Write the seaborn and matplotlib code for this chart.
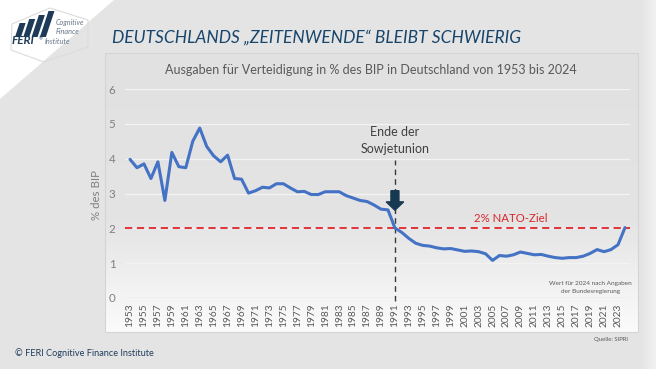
import numpy as np
import matplotlib
matplotlib.use("Agg")
import matplotlib.pyplot as plt
import seaborn as sns
from matplotlib.patches import Polygon, FancyArrow, Rectangle

# ---------------- data ----------------
years = list(range(1953, 2025))
spending = [
    3.98, 3.74, 3.85, 3.43, 3.91, 2.80, 4.18, 3.77, 3.74, 4.50,   # 1953-1962
    4.88, 4.35, 4.08, 3.91, 4.10, 3.43, 3.41, 3.01, 3.08, 3.18,   # 1963-1972
    3.16, 3.28, 3.28, 3.16, 3.05, 3.06, 2.97, 2.97, 3.05, 3.05,   # 1973-1982
    3.05, 2.94, 2.87, 2.80, 2.77, 2.67, 2.55, 2.53, 2.01, 1.88,   # 1983-1992
    1.71, 1.57, 1.51, 1.49, 1.44, 1.41, 1.42, 1.38, 1.34, 1.35,   # 1993-2002
    1.33, 1.27, 1.08, 1.22, 1.20, 1.24, 1.32, 1.28, 1.24, 1.25,   # 2003-2012
    1.20, 1.16, 1.14, 1.16, 1.16, 1.20, 1.28, 1.39, 1.33, 1.39,   # 2013-2022
    1.53, 2.02,                                                    # 2023-2024
]
tick_years = list(range(1953, 2024, 2))
y_ticks = [0, 1, 2, 3, 4, 5, 6]
nato_target = 2.0
event_year = 1991

title = "DEUTSCHLANDS \u201eZEITENWENDE\u201c BLEIBT SCHWIERIG"
subtitle = "Ausgaben f\u00fcr Verteidigung in % des BIP in Deutschland von 1953 bis 2024"
event_label = "Ende der\nSowjetunion"
nato_label = "2% NATO-Ziel"
note = "Wert f\u00fcr 2024 nach Angaben\nder Bundesregierung"
source = "Quelle: SIPRI"
copyright_txt = "\u00a9 FERI Cognitive Finance Institute"

# ---------------- style ----------------
sns.set_style("white")
plt.rcParams['font.family'] = ['Lato', 'DejaVu Sans']

W, H = 656, 369
fig = plt.figure(figsize=(6.56, 3.69), dpi=100)
fig.patch.set_facecolor('#e4e4e4')

def fx(x):
    return x / W

def fy(y):
    return 1 - y / H

# background layer in pixel coordinates
bg = fig.add_axes([0, 0, 1, 1], zorder=0)
bg.set_xlim(0, W)
bg.set_ylim(H, 0)
bg.axis('off')

# right light band
grad_r = np.linspace(0, 1, 50).reshape(1, -1)
bg.imshow(grad_r, extent=(640, W, H, 0), cmap=matplotlib.colors.LinearSegmentedColormap.from_list(
    'r', ['#e4e4e4', '#f1f1f1']), aspect='auto', zorder=0)

# white corner
bg.add_patch(Polygon([(0, 0), (114, 0), (0, 99)], closed=True, facecolor='white', edgecolor='none', zorder=1))
# hexagon outline around logo
bg.add_patch(Polygon([(50, 8), (88, 20), (88, 47), (44, 62), (11, 50), (12, 24)], closed=True,
                     facecolor='none', edgecolor='#dcdcdc', lw=0.8, zorder=2))
# logo bars
navy = '#1e3c58'
for i, top in enumerate([23, 19, 15, 11]):
    x0 = 15 + i * 8.3
    bottom = 37
    slant = (bottom - top) * 0.33
    bg.add_patch(Polygon([(x0, bottom), (x0 + 6, bottom), (x0 + 6 + slant, top), (x0 + slant, top)],
                         closed=True, facecolor=navy, edgecolor='none', zorder=3))
bg.text(12, 44.5, "FERI", fontsize=8.5, fontweight='bold', style='italic', color=navy, va='baseline', zorder=3)
bg.text(38.5, 40.5, "\u00ae", fontsize=3.5, color=navy, va='baseline', zorder=3)
bg.text(56, 25, "Cognitive", fontsize=5.2, style='italic', color='#66768a', va='baseline', zorder=3)
bg.text(56, 34.5, "Finance", fontsize=5.2, style='italic', color='#66768a', va='baseline', zorder=3)
bg.text(45, 44.5, "Institute", fontsize=5.2, style='italic', color='#66768a', va='baseline', zorder=3)

# chart panel with gradient
panel_cmap = matplotlib.colors.LinearSegmentedColormap.from_list(
    'p', [(0, '#e1e1e1'), (0.6, '#e4e4e4'), (1.0, '#fbfbfb')])
grad = np.linspace(0, 1, 256).reshape(-1, 1)
bg.imshow(grad, extent=(105, 638, 332, 53), cmap=panel_cmap, aspect='auto', zorder=1, origin='upper')
bg.add_patch(Rectangle((105, 53), 533, 279, facecolor='none', edgecolor='#d4d4d4', lw=0.8, zorder=2))

# texts
fig.text(fx(112), fy(38), title, fontsize=12.5, style='italic', color='#17456b', va='center', ha='left')
fig.text(fx(371), fy(70), subtitle, fontsize=9.0, color='#595959', va='center', ha='center')
fig.text(fx(97), fy(195), "% des BIP", fontsize=8.3, color='#7f7f7f', rotation=90, va='center', ha='center')
fig.text(fx(632), fy(287.5), note, fontsize=4.6, color='#595959', va='center', ha='right',
         multialignment='center', linespacing=1.5)
fig.text(fx(628), fy(340), source, fontsize=4.3, color='#595959', va='center', ha='right')
fig.text(fx(15), fy(353), copyright_txt, fontsize=6.6, color='#1f3d5c', va='center', ha='left')

# ---------------- main axes ----------------
ax = fig.add_axes([fx(125), fy(298), (630 - 125) / W, (298 - 89) / H], zorder=3)
ax.set_facecolor('none')
for s in ax.spines.values():
    s.set_visible(False)
ax.set_xlim(1952.28, 2024.72)
ax.set_ylim(0, 6)

for v in y_ticks[1:]:
    ax.axhline(v, color='#f3f3f3', lw=0.9, zorder=0)
ax.axhline(0, color='#d9d9d9', lw=0.9, zorder=0)

ax.axhline(nato_target, color='#e0262b', ls=(0, (4, 2.6)), lw=1.3, zorder=2)
ax.plot([event_year, event_year], [-0.1, 3.96], color='#3a3a3a', ls=(0, (4, 3)), lw=1.0,
        clip_on=False, zorder=2)

sns.lineplot(x=years, y=spending, ax=ax, color='#4472c4', lw=2.2, zorder=3)

ax.add_patch(FancyArrow(event_year, 3.08, 0, -0.56, width=1.15, head_width=2.5, head_length=0.24,
                        length_includes_head=True, color='#173a52', zorder=4))

ax.text(event_year, 3.98 + 0.55, event_label, fontsize=9.0, color='#404040', ha='center', va='center',
        linespacing=1.5)
ax.text(2007.6, 2.29, nato_label, fontsize=8.2, color='#d9262b', ha='center', va='center')

ax.set_xticks(tick_years)
ax.set_xticklabels([str(y) for y in tick_years], rotation=90, fontsize=7.3, color='#595959')
ax.set_yticks(y_ticks)
ax.set_yticklabels([str(v) for v in y_ticks], fontsize=8.3, color='#7f7f7f')
ax.tick_params(axis='x', length=0, pad=4)
ax.tick_params(axis='y', length=0, pad=7)
ax.set_xlabel('')
ax.set_ylabel('')
ax.grid(False)

fig.savefig('out.png', dpi=100, facecolor=fig.get_facecolor())
